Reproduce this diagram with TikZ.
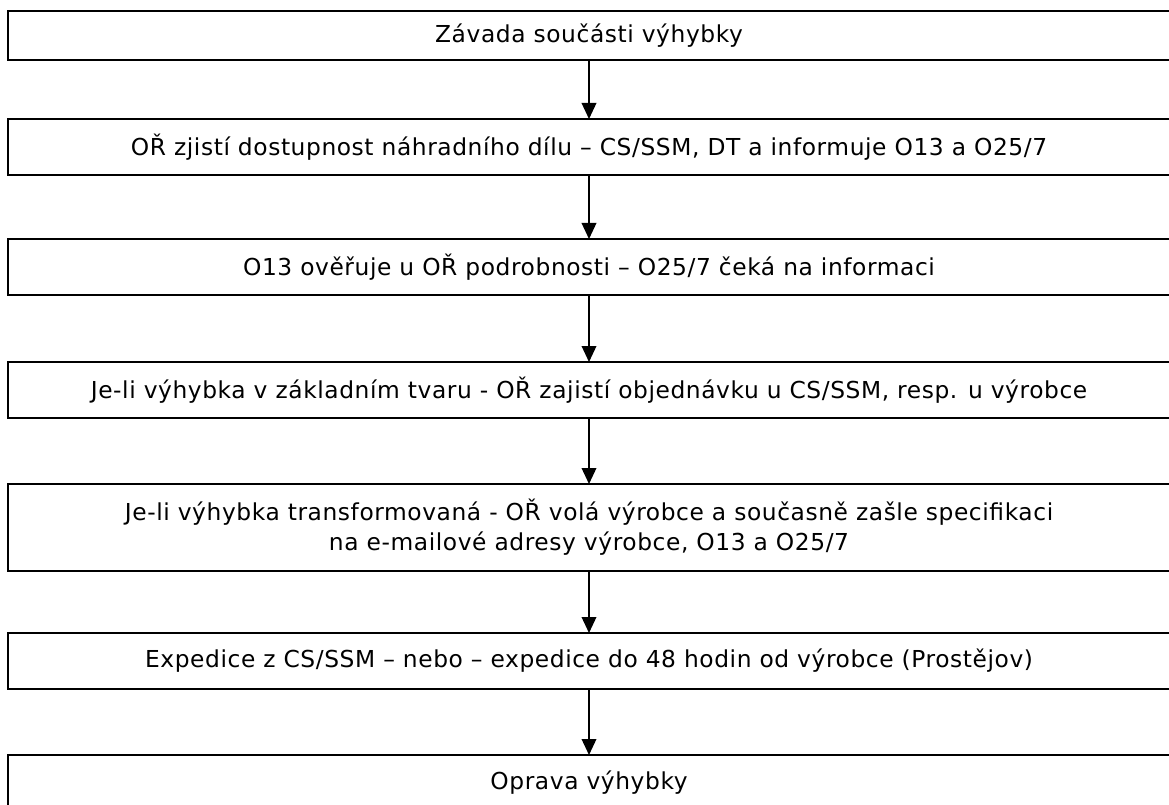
\documentclass[tikz,border=0pt]{standalone}
\usepackage{fontspec}
\setmainfont[LetterSpace=2.5]{DejaVu Sans}
\usetikzlibrary{positioning}
\usetikzlibrary{arrows.meta}

\begin{document}
\begin{tikzpicture}[x=0.75pt, y=-0.75pt]
	\tikzset{
		stepbox/.style={rectangle, draw=black, line width=1.1pt, inner sep=0pt, outer sep=0pt, minimum width=871.5pt, minimum height=42pt, align=center, font=\fontsize{17.5}{22.5}\selectfont},
		flow/.style={-{Triangle[width=11pt, length=12pt]}, line width=1.1pt},
	}
	\useasboundingbox (0,0) rectangle (1169,805);

	\node[stepbox, minimum height=36.75pt] (fault) at (589,35.5) {Závada součásti výhybky};
	\node[stepbox, below = 44.25pt of fault] (check) {OŘ zjistí dostupnost náhradního dílu – CS/SSM, DT a informuje O13 a O25/7};
	\node[stepbox, below = 48pt of check] (verify) {O13 ověřuje u OŘ podrobnosti – O25/7 čeká na informaci};
	\node[stepbox, below = 50.25pt of verify] (order) {Je-li výhybka v základním tvaru - OŘ zajistí objednávku u CS/SSM, resp. u výrobce};
	\node[stepbox, below = 49.5pt of order, minimum height=65.25pt] (transf) {Je-li výhybka transformovaná - OŘ volá výrobce a současně zašle specifikaci\\na e-mailové adresy výrobce, O13 a O25/7};
	\node[stepbox, below = 46.5pt of transf] (ship) {Expedice z CS/SSM – nebo – expedice do 48 hodin od výrobce (Prostějov)};
	\node[stepbox, below = 49.5pt of ship] (repair) {Oprava výhybky};

	\draw[flow] (fault.south) -- (check.north);
	\draw[flow] (check.south) -- (verify.north);
	\draw[flow] (verify.south) -- (order.north);
	\draw[flow] (order.south) -- (transf.north);
	\draw[flow] (transf.south) -- (ship.north);
	\draw[flow] (ship.south) -- (repair.north);
\end{tikzpicture}
\end{document}
